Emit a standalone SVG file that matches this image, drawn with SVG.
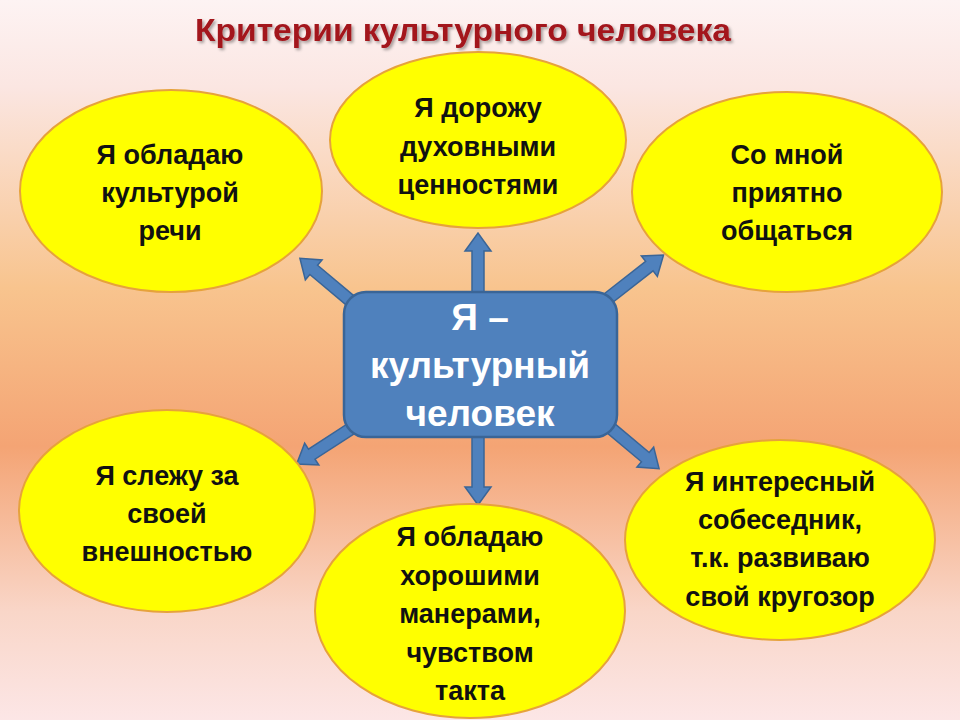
<svg xmlns="http://www.w3.org/2000/svg" width="960" height="720" viewBox="0 0 960 720">
<defs>
<linearGradient id="bg" x1="0" y1="0" x2="0" y2="1">
<stop offset="0" stop-color="#fdf3f3"/>
<stop offset="0.12" stop-color="#fbe6e2"/>
<stop offset="0.4" stop-color="#f8c48e"/>
<stop offset="0.62" stop-color="#f4a474"/>
<stop offset="0.85" stop-color="#f9d6c8"/>
<stop offset="1" stop-color="#fce6e6"/>
</linearGradient>
<filter id="sh" x="-5%" y="-20%" width="110%" height="150%">
<feDropShadow dx="2" dy="2" stdDeviation="1.5" flood-color="#000" flood-opacity="0.35"/>
</filter>
</defs>
<style>
.ell{fill:#ffff00;stroke:#e6a23c;stroke-width:2}
.t{font-family:"Liberation Sans",Arial,sans-serif;font-weight:bold;font-size:27px;fill:#111;text-anchor:middle}
.c{font-family:"Liberation Sans",Arial,sans-serif;font-weight:bold;font-size:37px;fill:#fff;text-anchor:middle}
.arr{fill:#4f81bd;stroke:#3a6597;stroke-width:1.5}
.title{font-family:"Liberation Sans",Arial,sans-serif;font-weight:bold;font-size:31px;fill:#a3141c;text-anchor:middle}
</style>
<rect width="960" height="720" fill="url(#bg)"/>
<text class="title" x="463" y="41" textLength="536" lengthAdjust="spacingAndGlyphs" filter="url(#sh)">Критерии культурного человека</text>

<g id="connectors">
<polygon class="arr" points="-6,0 -6,-44 -13,-44 0,-62 13,-44 6,-44 6,0" transform="translate(478,295)"/>
<polygon class="arr" points="-6,0 -6,-50 -13,-50 0,-68 13,-50 6,-50 6,0" transform="translate(478,437) rotate(180)"/>
<polygon class="arr" points="-6,0 -6,-50 -13,-50 0,-68 13,-50 6,-50 6,0" transform="translate(352,302) rotate(-50)"/>
<polygon class="arr" points="-6,0 -6,-55 -13,-55 0,-73 13,-55 6,-55 6,0" transform="translate(606,300) rotate(52)"/>
<polygon class="arr" points="-6,0 -6,-48 -13,-48 0,-66 13,-48 6,-48 6,0" transform="translate(352,428) rotate(-123)"/>
<polygon class="arr" points="-6,0 -6,-50 -13,-50 0,-68 13,-50 6,-50 6,0" transform="translate(607,425) rotate(130)"/>
</g>

<g id="n1">
<ellipse class="ell" cx="171" cy="191" rx="151" ry="101"/>
<text class="t" x="170" y="164">Я обладаю</text>
<text class="t" x="170" y="202">культурой</text>
<text class="t" x="170" y="240">речи</text>
</g>
<g id="n2">
<ellipse class="ell" cx="478" cy="140" rx="148" ry="88"/>
<text class="t" x="478" y="117">Я дорожу</text>
<text class="t" x="478" y="156">духовными</text>
<text class="t" x="478" y="194">ценностями</text>
</g>
<g id="n3">
<ellipse class="ell" cx="787" cy="192" rx="155" ry="100"/>
<text class="t" x="787" y="164">Со мной</text>
<text class="t" x="787" y="202">приятно</text>
<text class="t" x="787" y="240">общаться</text>
</g>
<g id="n4">
<ellipse class="ell" cx="167" cy="511" rx="148" ry="101"/>
<text class="t" x="167" y="485">Я слежу за</text>
<text class="t" x="167" y="523">своей</text>
<text class="t" x="167" y="561">внешностью</text>
</g>
<g id="n5">
<ellipse class="ell" cx="470" cy="611" rx="155" ry="107"/>
<text class="t" x="470" y="546">Я обладаю</text>
<text class="t" x="470" y="585">хорошими</text>
<text class="t" x="470" y="623">манерами,</text>
<text class="t" x="470" y="662">чувством</text>
<text class="t" x="470" y="700">такта</text>
</g>
<g id="n6">
<ellipse class="ell" cx="780" cy="540" rx="155" ry="100"/>
<text class="t" x="780" y="491">Я интересный</text>
<text class="t" x="780" y="529">собеседник,</text>
<text class="t" x="780" y="567">т.к. развиваю</text>
<text class="t" x="780" y="606">свой кругозор</text>
</g>
<g id="center">
<rect x="344" y="292" width="273" height="145" rx="22" fill="#4f81bd" stroke="#3a6597" stroke-width="2.5"/>
<text class="c" x="480" y="330">Я –</text>
<text class="c" x="480" y="378">культурный</text>
<text class="c" x="480" y="426">человек</text>
</g>
</svg>
